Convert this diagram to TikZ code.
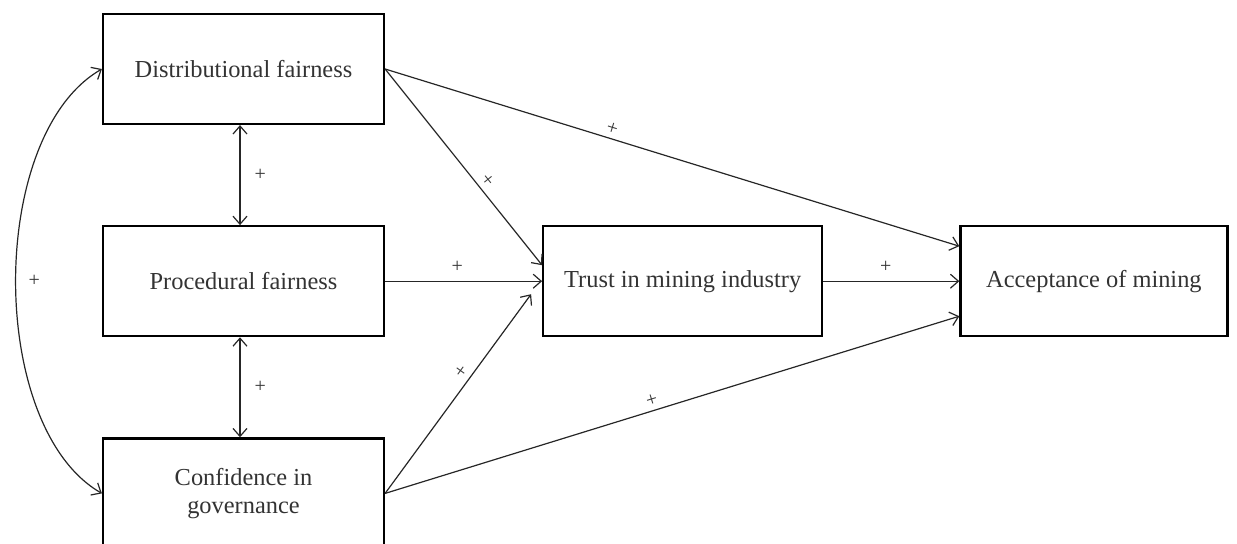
\documentclass[tikz,border=0pt]{standalone}
\usepackage{fontspec}
\setmainfont{Liberation Serif}
\usetikzlibrary{arrows.meta,positioning}

\begin{document}
\begin{tikzpicture}[->,>={Straight Barb[length=4pt,width=7pt]},x=0.5pt,y=0.5pt,
                    node distance=50pt,semithick,draw=black!85]
  \tikzstyle{factor}=[rectangle,draw=black,line width=1.1pt,text=black!80,
                      minimum width=140.5pt,minimum height=55pt,align=center,
                      font=\fontsize{12.2}{14}\selectfont]
  \tikzstyle{sign}=[font=\fontsize{10}{10}\selectfont,text=black!80,inner sep=2pt]

  \useasboundingbox (0,0) rectangle (1237,543);

  \node[factor]         (DF) at (243.5,474) {Distributional fairness};
  \node[factor]         (PF) [below=of DF] {Procedural fairness};
  \node[factor]         (CG) [below=of PF] {Confidence in\\governance};
  \node[factor, minimum width=139.5pt] (TM) [right=78.5pt of PF] {Trust in mining industry};
  \node[factor, minimum width=133.5pt] (AM) [right=68pt of TM] {Acceptance of mining};

  \path ([xshift=-1.75pt]DF.south) edge[<->] node[sign,right=5pt] {+} ([xshift=-1.75pt]PF.north)
        ([xshift=-1.75pt]PF.south) edge[<->] node[sign,right=5pt] {+} ([xshift=-1.75pt]CG.north)
        (DF.west) edge[<->,out=210,in=150,looseness=0.8] node[sign,right=4pt] {+} (CG.west)
        (DF.east) edge node[sign,sloped,above,pos=0.39] {+} ([yshift=17.5pt]AM.west)
                  edge node[sign,sloped,above,pos=0.6] {+} ([yshift=8pt]TM.west)
        (PF.east) edge node[sign,above=2pt,pos=0.46] {+} (TM.west)
        (CG.east) edge node[sign,sloped,above,pos=0.58] {+} ([xshift=-5.5pt,yshift=-6.5pt]TM.west)
                  edge node[sign,sloped,above,pos=0.47] {+} ([yshift=-17.5pt]AM.west)
        (TM.east) edge node[sign,above=2pt,pos=0.46] {+} (AM.west);
\end{tikzpicture}
\end{document}
